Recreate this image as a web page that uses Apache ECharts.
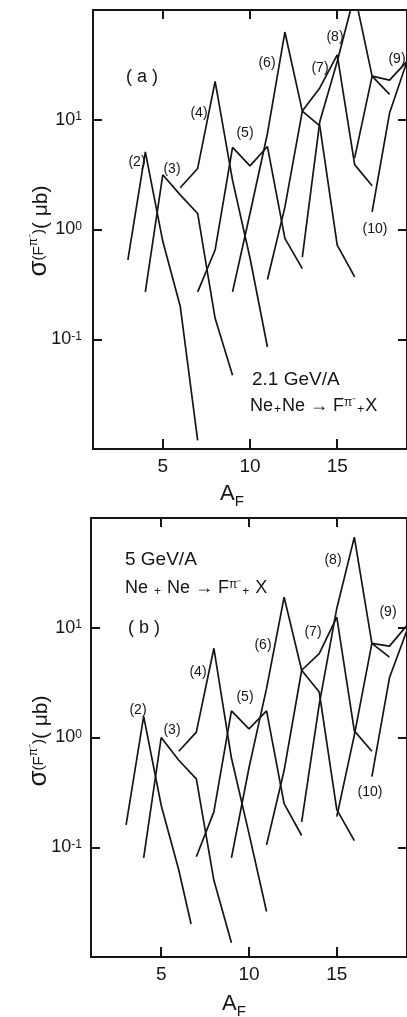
<!DOCTYPE html>
<html><head><meta charset="utf-8">
<script src="https://cdn.jsdelivr.net/npm/echarts@6/dist/echarts.min.js"></script>
<style>html,body{margin:0;padding:0;background:#fff}#c{width:407px;height:1017px}</style>
</head><body><div id="c"></div>
<script>
// ---------- data ----------
const xTickValues = [5, 10, 15];
const yTickValues = [0.1, 1, 10];
const curveLabels = ['(2)', '(3)', '(4)', '(5)', '(6)', '(7)', '(8)', '(9)', '(10)'];

// panel (a): 2.1 GeV/A  — [A_F, sigma (microbarn)]
const a2  = [[3,0.53],[4,5.1],[5,0.78],[6,0.2],[7,0.012]];
const a3  = [[4,0.27],[5,3.15],[6,2.07],[7,1.4],[8,0.155],[9,0.047]];
const a4  = [[6,2.4],[7,3.6],[8,22.4],[9,2.8],[10,0.55],[11,0.085]];
const a5  = [[7,0.27],[8,0.65],[9,5.6],[10,3.8],[11,5.7],[12,0.83],[13,0.44]];
const a6  = [[9,0.27],[10,1.4],[11,7.5],[12,63],[13,12],[14,8.8],[15,0.72],[16,0.37]];
const a7  = [[11,0.35],[12,1.6],[13,12],[14,19.5],[15,39],[16,3.9],[17,2.5]];
const a8  = [[13,0.56],[14,9.6],[15,34],[16,140],[17,25],[18,17]];
const a9  = [[16,4.5],[17,25],[18,23],[19,34]];
const a10 = [[17,1.45],[18,11.5],[19,34]];

// panel (b): 5 GeV/A
const b2  = [[3,0.16],[4,1.56],[5,0.24],[6,0.062],[6.7,0.02]];
const b3  = [[4,0.08],[5,1.0],[6,0.62],[7,0.42],[8,0.05],[9,0.0135]];
const b4  = [[6,0.75],[7,1.12],[8,6.5],[9,0.65],[10,0.133],[11,0.026]];
const b5  = [[7,0.082],[8,0.21],[9,1.75],[10,1.2],[11,1.75],[12,0.25],[13,0.128]];
const b6  = [[9,0.08],[10,0.53],[11,2.8],[12,19],[13,4.1],[14,2.6],[15,0.22],[16,0.115]];
const b7  = [[11,0.105],[12,0.5],[13,4.1],[14,5.8],[15,12.5],[16,1.15],[17,0.75]];
const b8  = [[13,0.17],[14,2.0],[15,15],[16,67],[17,7.2],[18,5.4]];
const b9  = [[15,0.19],[16,1.05],[17,7.2],[18,6.8],[19,10.5]];
const b10 = [[17,0.44],[18,3.5],[19,9.5]];

const panelA = [a2,a3,a4,a5,a6,a7,a8,a9,a10];
const panelB = [b2,b3,b4,b5,b6,b7,b8,b9,b10];

// ---------- styling ----------
const FONT = '"Liberation Sans", Arial, sans-serif';
const INK = '#151515';

function yLabel(v) {
  const e = Math.round(Math.log10(v));
  if (e < -1 || e > 1) return '';
  return '{b|10}{s|' + (e < 0 ? '-1' : String(e)) + '}';
}
const yRich = {
  b: {fontSize: 18, fontFamily: FONT, color: INK, verticalAlign: 'bottom', lineHeight: 18},
  s: {fontSize: 12, fontFamily: FONT, color: INK, verticalAlign: 'top', lineHeight: 12, padding: [0,0,10,0]}
};

function xAxes(gridIndex) {
  return [{
    type: 'value', gridIndex, min: 1, max: 19, position: 'bottom',
    axisLine: {lineStyle: {color: INK, width: 2}},
    axisTick: {inside: true, length: 10, customValues: xTickValues, lineStyle: {color: INK, width: 2}},
    axisLabel: {customValues: xTickValues, margin: 8, fontSize: 19, fontFamily: FONT, color: INK},
    splitLine: {show: false}
  }, {
    type: 'value', gridIndex, min: 1, max: 19, position: 'top',
    axisLine: {lineStyle: {color: INK, width: 2}},
    axisTick: {inside: true, length: 9, customValues: xTickValues, lineStyle: {color: INK, width: 2}},
    axisLabel: {show: false}, splitLine: {show: false}
  }];
}
function yAxes(gridIndex, margin) {
  return [{
    type: 'log', logBase: 10, gridIndex, min: 0.01, max: 100, position: 'left',
    axisLine: {show: true, lineStyle: {color: INK, width: 2}},
    axisTick: {show: true, inside: true, length: 9, lineStyle: {color: INK, width: 2}},
    axisLabel: {margin, formatter: yLabel, rich: yRich},
    splitLine: {show: false}, minorTick: {show: false}
  }, {
    type: 'log', logBase: 10, gridIndex, min: 0.01, max: 100, position: 'right',
    axisLine: {show: true, lineStyle: {color: INK, width: 2}},
    axisTick: {show: true, inside: true, length: 9, lineStyle: {color: INK, width: 2}},
    axisLabel: {show: false}, splitLine: {show: false}
  }];
}

const series = [];
panelA.forEach((d, i) => series.push({
  name: 'a' + curveLabels[i], type: 'line', xAxisIndex: 0, yAxisIndex: 0, data: d,
  showSymbol: false, clip: true, lineStyle: {color: INK, width: 1.7}, silent: true
}));
panelB.forEach((d, i) => series.push({
  name: 'b' + curveLabels[i], type: 'line', xAxisIndex: 2, yAxisIndex: 2, data: d,
  showSymbol: false, clip: true, lineStyle: {color: INK, width: 1.7}, silent: true
}));

// ---------- text annotations ----------
function txt(x, y, text, size, align) {
  return {type: 'text', x, y, silent: true, style: {
    text, fill: INK, font: size + 'px ' + FONT, align: align || 'center', verticalAlign: 'middle'}};
}
function rtxt(x, y, text, rich, align, rotation) {
  return {type: 'text', x, y, rotation: rotation || 0, silent: true, style: {
    text, rich, fill: INK, fontFamily: FONT, align: align || 'left', verticalAlign: 'middle'}};
}
const reacRich = {
  t: {fontSize: 18, fontFamily: FONT, color: INK, verticalAlign: 'bottom', lineHeight: 19},
  p: {fontSize: 12, fontFamily: FONT, color: INK, verticalAlign: 'bottom', lineHeight: 19, padding: [0,1,0,1]},
  s: {fontSize: 12, fontFamily: FONT, color: INK, verticalAlign: 'top', lineHeight: 12, padding: [0,0,9,0]}
};
const yTitleRich = {
  m: {fontSize: 26, fontFamily: FONT, color: INK, verticalAlign: 'bottom', lineHeight: 24},
  n: {fontSize: 21, fontFamily: FONT, color: INK, verticalAlign: 'bottom', lineHeight: 24},
  s: {fontSize: 15, fontFamily: FONT, color: INK, verticalAlign: 'top', lineHeight: 15, padding: [3,0,14,0]},
  ss: {fontSize: 12, fontFamily: FONT, color: INK, verticalAlign: 'top', lineHeight: 12, padding: [0,0,20,0]}
};
const yTitle = '{m|σ}{s|(F}{ss|π⁻}{s|)}{n|( μb)}';
const xTitleRich = {
  a: {fontSize: 22, fontFamily: FONT, color: INK, verticalAlign: 'top', lineHeight: 22},
  f: {fontSize: 15, fontFamily: FONT, color: INK, verticalAlign: 'top', lineHeight: 15, padding: [11,0,0,0]}
};

const posA = [[137,162],[172,169],[199,113],[245,133],[267,63],[320,68],[335,37],[397,59],[375,229]];
const posB = [[138,710],[172,730],[198,672],[245,697],[263,645],[313,632],[333,560],[388,612],[370,792]];

const graphics = [];
posA.forEach((p, i) => graphics.push(txt(p[0], p[1], curveLabels[i], 14)));
posB.forEach((p, i) => graphics.push(txt(p[0], p[1], curveLabels[i], 14)));
graphics.push(txt(142, 77, '( a )', 18));
graphics.push(txt(144, 628, '( b )', 18));
graphics.push(txt(252, 380, '2.1 GeV/A', 19, 'left'));
graphics.push(rtxt(250, 406, '{t|Ne}{p|+}{t|Ne → F}{s|π⁻}{p|+}{t|X}', reacRich));
graphics.push(txt(125, 560, '5 GeV/A', 19, 'left'));
graphics.push(rtxt(125, 588, '{t|Ne }{p|+}{t| Ne → F}{s|π⁻}{p|+}{t| X}', reacRich));
graphics.push(rtxt(40, 231, yTitle, yTitleRich, 'center', Math.PI / 2));
graphics.push(rtxt(40, 741, yTitle, yTitleRich, 'center', Math.PI / 2));
graphics.push(rtxt(232, 494, '{a|A}{f|F}', xTitleRich, 'center'));
graphics.push(rtxt(234, 1004, '{a|A}{f|F}', xTitleRich, 'center'));

const chart = echarts.init(document.getElementById('c'), null, {renderer: 'canvas'});
chart.setOption({
  animation: false,
  backgroundColor: '#fff',
  grid: [
    {left: 93, top: 10, width: 316, height: 439},
    {left: 91, top: 518, width: 316.5, height: 439}
  ],
  xAxis: [...xAxes(0), ...xAxes(1)],
  yAxis: [...yAxes(0, 11), ...yAxes(1, 9)],
  series,
  graphic: graphics
});
</script></body></html>
